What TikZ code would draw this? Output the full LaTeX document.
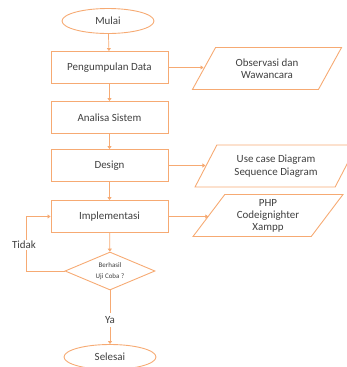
\documentclass[tikz,border=0pt]{standalone}
\usepackage{fontspec}
\setmainfont{Carlito}
\usetikzlibrary{shapes.geometric,arrows.meta}
\definecolor{orl}{RGB}{246,170,115}
\definecolor{txt}{RGB}{64,64,64}
\tikzset{
  every node/.style={text=txt, font=\fontsize{11}{12.5}\selectfont},
  procbox/.style={draw=orl, line width=0.9pt, minimum width=117bp, minimum height=32bp, inner sep=0pt},
  term/.style={ellipse, draw=orl, line width=0.9pt, minimum width=92bp, minimum height=25bp, inner sep=0pt},
  iobox/.style={trapezium, trapezium left angle=55, trapezium right angle=125, trapezium stretches=true,
     draw=orl, line width=0.9pt, minimum width=#1, minimum height=42bp, inner sep=0pt, align=center},
  decide/.style={diamond, draw=orl, line width=0.9pt, minimum width=90bp, minimum height=38bp, inner sep=0pt, align=center, aspect=2.4},
  flow/.style={draw=orl, line width=0.7pt, -{Triangle[width=4pt,length=3pt]}},
  plain/.style={draw=orl, line width=0.7pt},
}
\begin{document}
\begin{tikzpicture}[x=1bp,y=-1bp]
\useasboundingbox (0,0) rectangle (347,367);
\node[term] (mulai) at (108,21) {Mulai};
\node[procbox] (kumpul) at (109.5,67.5) {Pengumpulan Data};
\node[procbox] (analisa) at (109.5,117.5) {Analisa Sistem};
\node[procbox] (design) at (109.5,165.5) {Design};
\node[procbox] (impl) at (109.5,216.5) {Implementasi};
\node[decide] (uji) at (110,271) {\fontsize{7}{8.5}\selectfont Berhasil\\[-1pt]\fontsize{7}{8.5}\selectfont Uji Coba ?};
\node (ya) at (110,320) {Ya};
\node[term] (selesai) at (110,357) {Selesai};
\node[iobox=150bp] (obs) at (267,68.5) {Observasi dan\\Wawancara};
\node[iobox=162bp] (uml) at (276,166) {Use case Diagram\\Sequence Diagram};
\node[iobox=150bp, font=\fontsize{11}{12}\selectfont] (php) at (268,215.5) {PHP\\Codeignighter\\Xampp};
\coordinate (c1) at (26,271);
\coordinate (c2) at (26,216.5);
\draw[flow] (mulai) -- (kumpul);
\draw[flow] (kumpul) -- (analisa);
\draw[flow] (analisa) -- (design);
\draw[flow] (design) -- (impl);
\draw[flow] (impl) -- (uji);
\draw[plain] (uji) -- (ya);
\draw[flow] (ya) -- (selesai);
\draw[flow] (kumpul.east) -- (obs.west |- kumpul.east);
\draw[flow] (design.east) -- (uml.west |- design.east);
\draw[flow] (impl.east) -- (php.west |- impl.east);
\draw[plain] (uji.west) -- (c1) -- (c2);
\draw[flow] (c2) -- (impl.west);
\node[fill=white, inner sep=1pt] (tidak) at (24,245) {Tidak};
\end{tikzpicture}
\end{document}
